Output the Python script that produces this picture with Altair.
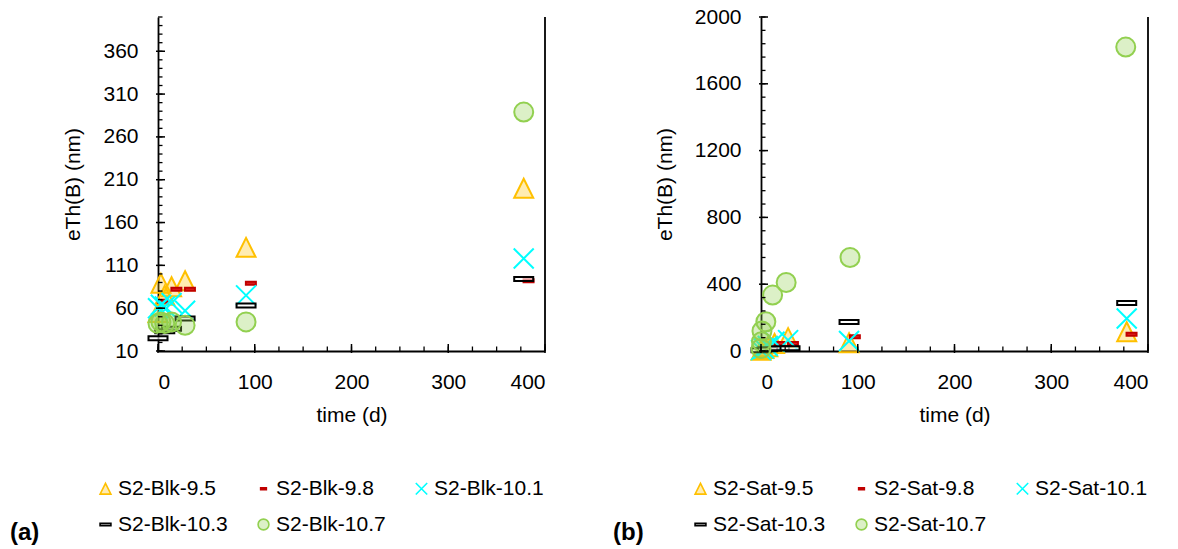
import altair as alt
import pandas as pd

FONT = "Liberation Sans"

# ---------------- panel (a): S2-Blk ----------------
blk_names = ["S2-Blk-9.5", "S2-Blk-9.8", "S2-Blk-10.1", "S2-Blk-10.3", "S2-Blk-10.7"]
blk_95_t = [0, 3, 7, 14, 28, 91, 378]
blk_95_v = [55, 89, 75, 85, 92, 131, 200]
blk_98_t = [5, 19, 33, 96, 383]
blk_98_v = [68, 82, 82, 89, 92]
blk_101_t = [0, 3, 7, 14, 28, 91, 378]
blk_101_v = [60, 64, 62, 66, 57, 75, 118]
blk_103_t = [0, 7, 14, 28, 91, 378]
blk_103_v = [25, 33, 36, 48, 63, 94]
blk_107_t = [0, 3, 7, 14, 28, 91, 378]
blk_107_v = [42, 44, 42, 44, 40, 44, 289]

# ---------------- panel (b): S2-Sat ----------------
sat_names = ["S2-Sat-9.5", "S2-Sat-9.8", "S2-Sat-10.1", "S2-Sat-10.3", "S2-Sat-10.7"]
sat_95_t = [0, 3, 7, 14, 28, 91, 378]
sat_95_v = [5, 15, 25, 45, 80, 50, 115]
sat_98_t = [5, 19, 33, 97, 383]
sat_98_v = [10, 45, 45, 85, 100]
sat_101_t = [0, 3, 7, 14, 28, 91, 378]
sat_101_v = [5, 15, 30, 55, 65, 60, 195]
sat_103_t = [0, 7, 19, 30, 91, 378]
sat_103_v = [5, 10, 16, 16, 173, 287]
sat_107_t = [0, 0.5, 1, 5, 12, 26, 92, 377]
sat_107_v = [15, 56, 120, 175, 335, 410, 560, 1820]

# axis tick values
x_major = [0, 100, 200, 300, 400]
x_minor = [0, 25, 50, 75, 100, 125, 150, 175, 200, 225, 250, 275, 300, 325, 350, 375, 400]
blk_y_major = [10, 60, 110, 160, 210, 260, 310, 360]
blk_y_minor = list(range(10, 401, 10))
sat_y_major = [0, 400, 800, 1200, 1600, 2000]
sat_y_minor = list(range(0, 2001, 80))

# marker styles (custom symbol paths in the -1..1 box)
SHAPES = [
    "M0,-0.95L0.95,0.95L-0.95,0.95Z",                              # triangle
    "M-0.5,-0.15L0.5,-0.15L0.5,0.15L-0.5,0.15Z",                   # small red dash
    "M-1,-1L1,1M-1,1L1,-1",                                        # x cross
    "M-0.95,-0.2L0.95,-0.2L0.95,0.2L-0.95,0.2Z",                   # long black dash
    "M0.95,0A0.95,0.95,0,1,1,-0.95,0A0.95,0.95,0,1,1,0.95,0Z",     # circle
]
STROKES = ["#FFC000", "#C00000", "#00FFFF", "#000000", "#92D050"]
FILLS = ["rgba(255,192,0,0.3)", "#E02020", "transparent",
         "rgba(255,255,255,0.6)", "rgba(146,208,80,0.32)"]

W, H = 387, 334


def make_df(names, ts, vs):
    rows = []
    for n, t, v in zip(names, ts, vs):
        for a, b in zip(t, v):
            rows.append({"series": n, "t": a, "v": b})
    return pd.DataFrame(rows)


def panel(df, names, ydom, ymaj, ymin, label, legend_x):
    xs = alt.Scale(domain=[0, 400], nice=False, zero=False)
    ys = alt.Scale(domain=ydom, nice=False, zero=False)
    leg = alt.Legend(
        title=None, orient="none", legendX=legend_x, legendY=461,
        direction="horizontal", columns=3, columnPadding=25, rowPadding=14,
        gridAlign="all", labelFontSize=21, labelFont=FONT, labelColor="black",
        labelOffset=2, symbolSize=130, symbolStrokeWidth=1.6, labelLimit=300,
    )
    pts = alt.Chart(df).mark_point(size=400, strokeWidth=2, opacity=1).encode(
        x=alt.X("t:Q", scale=xs, axis=alt.Axis(
            values=x_major, title="time (d)", ticks=False, grid=False,
            domainColor="black", domainWidth=1.8, labelFontSize=21, labelFont=FONT,
            labelColor="black", labelPadding=20, titleFontSize=21, titleFont=FONT,
            titleFontWeight="normal", titleColor="black", titlePadding=12)),
        y=alt.Y("v:Q", scale=ys, axis=alt.Axis(
            values=ymaj, title="eTh(B) (nm)", ticks=False, grid=False, format="d",
            domainColor="black", domainWidth=1.8, labelFontSize=21, labelFont=FONT,
            labelColor="black", labelPadding=20, titleFontSize=21, titleFont=FONT,
            titleFontWeight="normal", titleColor="black", titlePadding=19)),
        shape=alt.Shape("series:N", scale=alt.Scale(domain=names, range=SHAPES), legend=leg),
        stroke=alt.Stroke("series:N", scale=alt.Scale(domain=names, range=STROKES), legend=leg),
        fill=alt.Fill("series:N", scale=alt.Scale(domain=names, range=FILLS), legend=leg),
    )
    # inward tick marks, drawn from the tick-value lists through the same scales
    xmaj_ticks = alt.Chart(pd.DataFrame({"t": x_major})).mark_rule(
        color="black", strokeWidth=1.5).encode(
        x=alt.X("t:Q", scale=xs, axis=None), y=alt.value(H + 2), y2=alt.value(H - 7))
    xmin_ticks = alt.Chart(pd.DataFrame({"t": x_minor})).mark_rule(
        color="black", strokeWidth=1.3).encode(
        x=alt.X("t:Q", scale=xs, axis=None), y=alt.value(H), y2=alt.value(H - 4.5))
    ymaj_ticks = alt.Chart(pd.DataFrame({"v": ymaj})).mark_rule(
        color="black", strokeWidth=1.5).encode(
        y=alt.Y("v:Q", scale=ys, axis=None), x=alt.value(-2), x2=alt.value(7))
    ymin_ticks = alt.Chart(pd.DataFrame({"v": ymin})).mark_rule(
        color="black", strokeWidth=1.3).encode(
        y=alt.Y("v:Q", scale=ys, axis=None), x=alt.value(0), x2=alt.value(4.5))
    border = alt.Chart(pd.DataFrame({"v": [0]})).mark_rule(
        color="black", strokeWidth=1.8).encode(
        x=alt.value(W), y=alt.value(0), y2=alt.value(H))
    tag = alt.Chart(pd.DataFrame({"lab": [label]})).mark_text(
        font=FONT, fontSize=24, fontWeight="bold", color="black",
        align="left", baseline="middle",
    ).encode(x=alt.value(-148), y=alt.value(516), text="lab:N")
    return alt.layer(
        pts, xmin_ticks, xmaj_ticks, ymin_ticks, ymaj_ticks, border, tag
    ).resolve_axis(x="independent", y="independent").properties(width=W, height=H)


df_blk = make_df(blk_names,
                 [blk_95_t, blk_98_t, blk_101_t, blk_103_t, blk_107_t],
                 [blk_95_v, blk_98_v, blk_101_v, blk_103_v, blk_107_v])
df_sat = make_df(sat_names,
                 [sat_95_t, sat_98_t, sat_101_t, sat_103_t, sat_107_t],
                 [sat_95_v, sat_98_v, sat_101_v, sat_103_v, sat_107_v])

left = panel(df_blk, blk_names, [10, 400], blk_y_major, blk_y_minor, "(a)", -63)
right = panel(df_sat, sat_names, [0, 2000], sat_y_major, sat_y_minor, "(b)", -71)

chart = alt.hconcat(left, right, spacing=67).resolve_scale(
    shape="independent", stroke="independent", fill="independent"
).properties(
    padding={"left": 10, "top": 6, "right": 5, "bottom": 5},
    background="white",
).configure_view(stroke=None)

chart.save("out.html", embed_options={"renderer": "svg", "actions": False})
